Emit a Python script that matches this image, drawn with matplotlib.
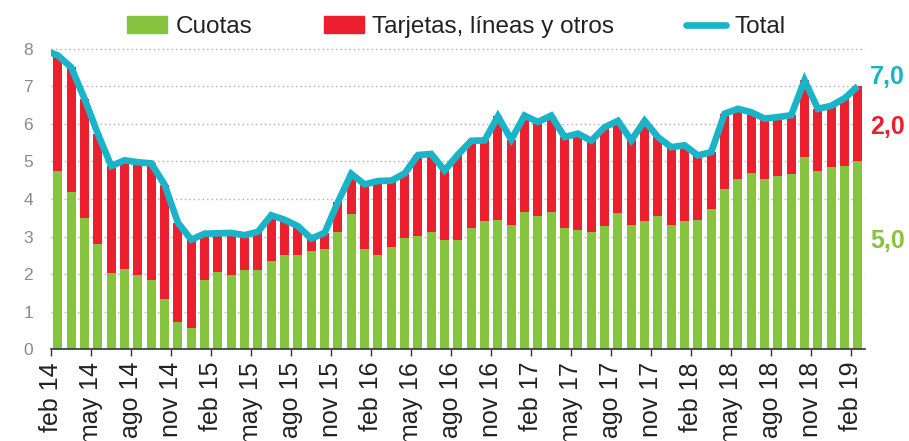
import numpy as np
import matplotlib
matplotlib.use('Agg')
import matplotlib.pyplot as plt
from matplotlib.patches import Patch
from matplotlib.lines import Line2D
import matplotlib.transforms as mtransforms

plt.rcParams['font.family'] = ['Liberation Sans', 'DejaVu Sans']

GREEN = '#86c440'
RED = '#ec1f2f'
CYAN = '#19b4c8'

MESES = ['ene', 'feb', 'mar', 'abr', 'may', 'jun', 'jul', 'ago', 'sep', 'oct', 'nov', 'dic']

# feb 14 .. feb 19, monthly
cuotas = [4.74, 4.20, 3.50, 2.81, 2.04, 2.15, 1.99, 1.84, 1.33, 0.73,
          0.56, 1.84, 2.07, 1.99, 2.11, 2.11, 2.35, 2.52, 2.52, 2.61,
          2.68, 3.12, 3.61, 2.68, 2.52, 2.73, 2.96, 3.03, 3.12, 2.92,
          2.92, 3.23, 3.43, 3.45, 3.31, 3.65, 3.54, 3.65, 3.23, 3.19,
          3.12, 3.28, 3.63, 3.32, 3.43, 3.54, 3.32, 3.43, 3.45, 3.74,
          4.28, 4.54, 4.69, 4.54, 4.62, 4.66, 5.12, 4.74, 4.85, 4.89, 5.01]
tarjetas = [3.08, 3.30, 3.16, 2.92, 2.84, 2.88, 2.99, 3.11, 3.05, 2.64,
            2.36, 1.24, 1.02, 1.11, 0.93, 1.02, 1.22, 0.93, 0.76, 0.34,
            0.42, 0.80, 1.06, 1.71, 1.96, 1.76, 1.72, 2.14, 2.08, 1.84,
            2.26, 2.32, 2.13, 2.75, 2.27, 2.57, 2.51, 2.57, 2.42, 2.55,
            2.43, 2.63, 2.45, 2.24, 2.65, 2.11, 2.06, 2.00, 1.71, 1.51,
            1.99, 1.86, 1.62, 1.60, 1.56, 1.57, 2.04, 1.66, 1.63, 1.79, 1.99]
total_ene14 = 7.96  # previous month, only the line runs into the frame

ultimo = {'Total': '7,0', 'Tarjetas': '2,0', 'Cuotas': '5,0'}

n = len(cuotas)
labels = []
for i in range(n):
    m = (1 + i) % 12
    y = 14 + (1 + i) // 12
    labels.append(f"{MESES[m]} {y}")

x = np.arange(n)
cuotas = np.array(cuotas)
tarjetas = np.array(tarjetas)
total = cuotas + tarjetas

fig = plt.figure(figsize=(9.09, 4.41), dpi=100)
ax = fig.add_axes([0.0564, 0.2075, 0.8947, 0.6907])

for v in range(1, 9):
    ax.axhline(v, color='#b0b0b0', linestyle=(0, (1, 2.2)), linewidth=1.0, zorder=0)

ax.bar(x, cuotas, width=0.68, color=GREEN, zorder=2)
ax.bar(x, tarjetas, width=0.68, bottom=cuotas, color=RED, zorder=2)
ax.plot(np.concatenate([[-1], x]), np.concatenate([[total_ene14], total]),
        color=CYAN, linewidth=4.8, solid_joinstyle='miter', solid_capstyle='butt', zorder=3)

ax.set_xlim(-0.5, n - 0.5)
ax.set_ylim(0, 8.1)

ax.set_yticks(range(0, 9))
ax.tick_params(axis='y', length=0, pad=13, labelsize=12.5, labelcolor='#8a8a8a')

tick_idx = list(range(0, n, 3))
ax.set_xticks([i - 0.5 for i in tick_idx])
ax.set_xticklabels([labels[i] for i in tick_idx], rotation=90, va='top', ha='center')
ax.tick_params(axis='x', length=5, width=1.0, color='#333333', pad=4, labelsize=18, labelcolor='#222222')

for s in ['top', 'right', 'left']:
    ax.spines[s].set_visible(False)
ax.spines['bottom'].set_color('#333333')
ax.spines['bottom'].set_linewidth(1.2)

trans = mtransforms.blended_transform_factory(ax.transAxes, ax.transData)
ax.text(1.0066, 7.25, ultimo['Total'], color=CYAN, fontsize=18, fontweight='bold', va='center', ha='left', transform=trans)
ax.text(1.0066, 5.92, ultimo['Tarjetas'], color=RED, fontsize=18, fontweight='bold', va='center', ha='left', transform=trans)
ax.text(1.0066, 2.89, ultimo['Cuotas'], color=GREEN, fontsize=18, fontweight='bold', va='center', ha='left', transform=trans)

handles = [Patch(color=GREEN), Patch(color=RED),
           Line2D([], [], color=CYAN, linewidth=4.8, solid_capstyle='round')]
fig.legend(handles, ['Cuotas', 'Tarjetas, líneas y otros', 'Total'],
           loc='center', bbox_to_anchor=(0.502, 0.938), ncol=3, frameon=False,
           fontsize=17.5, handlelength=1.65, handleheight=0.7, handletextpad=0.35,
           columnspacing=2.95, labelcolor='#222222')

fig.savefig('out.png', dpi=100)
